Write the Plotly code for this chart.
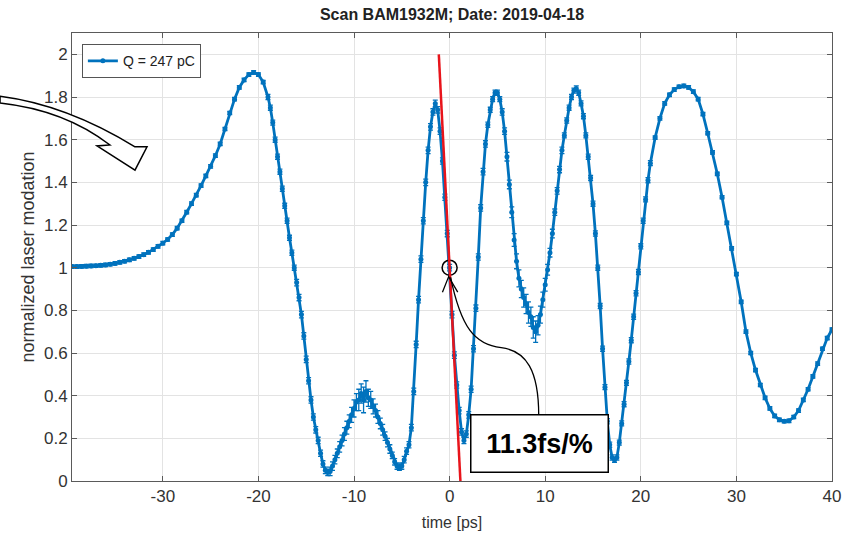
import numpy as np
import plotly.graph_objects as go

# Scan grid (ps): coarse on the flat edges, finer through the oscillations
time_a = np.arange(-39.5, -19.49, 0.5)
time_b = np.arange(-19.0, 21.01, 0.25)
time_c = np.arange(21.5, 40.01, 0.5)

mod_a = [1.005, 1.005, 1.006, 1.007, 1.008, 1.009, 1.011, 1.013, 1.016, 1.020,
         1.025, 1.030, 1.037, 1.044, 1.052, 1.061, 1.072, 1.085, 1.100, 1.115,
         1.132, 1.155, 1.185, 1.220, 1.260, 1.300, 1.340, 1.385, 1.430, 1.475,
         1.525, 1.580, 1.650, 1.725, 1.790, 1.845, 1.880, 1.905, 1.915, 1.905,
         1.870]

mod_b = [1.80, 1.75, 1.68, 1.60, 1.52, 1.45, 1.37, 1.29, 1.22, 1.14, 1.07, 1.00,
         0.93, 0.86, 0.78, 0.68, 0.57, 0.47, 0.38, 0.30, 0.24, 0.19, 0.13, 0.08,
         0.05, 0.04, 0.045, 0.07, 0.10, 0.13, 0.16, 0.19, 0.22, 0.25, 0.28, 0.31,
         0.34, 0.37, 0.38, 0.41, 0.38, 0.42, 0.39, 0.38, 0.35, 0.33, 0.30, 0.27,
         0.24, 0.21, 0.18, 0.15, 0.12, 0.09, 0.07, 0.065, 0.07, 0.10, 0.14, 0.17,
         0.25, 0.42, 0.64, 0.85, 1.04, 1.22, 1.40, 1.55, 1.66, 1.73, 1.77, 1.74,
         1.64, 1.50, 1.33, 1.16, 1.00, 0.78, 0.59, 0.45, 0.33, 0.23, 0.19, 0.22,
         0.31, 0.43, 0.62, 0.81, 1.05, 1.28, 1.45, 1.58, 1.67, 1.74, 1.79, 1.82,
         1.82, 1.79, 1.73, 1.64, 1.52, 1.39, 1.26, 1.13, 1.03, 0.95, 0.90, 0.86,
         0.83, 0.79, 0.77, 0.72, 0.70, 0.73, 0.78, 0.85, 0.92, 0.99, 1.07, 1.16,
         1.26, 1.36, 1.46, 1.55, 1.62, 1.69, 1.75, 1.80, 1.83, 1.84, 1.82, 1.77,
         1.71, 1.62, 1.52, 1.42, 1.30, 1.16, 1.00, 0.82, 0.62, 0.44, 0.28, 0.17,
         0.11, 0.10, 0.11, 0.18, 0.27, 0.36, 0.46, 0.56, 0.66, 0.77, 0.88, 0.98,
         1.10, 1.22, 1.32, 1.41, 1.49]

mod_c = [1.61, 1.70, 1.77, 1.81, 1.835, 1.848, 1.852, 1.845, 1.825, 1.79,
         1.72, 1.63, 1.54, 1.44, 1.33, 1.21, 1.09, 0.97, 0.84, 0.70,
         0.60, 0.52, 0.45, 0.39, 0.34, 0.305, 0.287, 0.28, 0.282, 0.30,
         0.33, 0.38, 0.43, 0.49, 0.55, 0.62, 0.67, 0.71]

err_a = [0.008] * len(mod_a)
err_b = ([0.012] * 12 + [0.015] * 12 +
         [0.015, 0.015, 0.02, 0.02, 0.02, 0.02, 0.025, 0.025, 0.03, 0.03, 0.03, 0.035] +
         [0.04, 0.04, 0.05, 0.045, 0.06, 0.05, 0.04, 0.04, 0.035, 0.03, 0.03, 0.025] +
         [0.025, 0.02, 0.02, 0.02] + [0.015] * 8 +
         [0.015] * 12 + [0.015] * 12 +
         [0.015] * 8 + [0.012] * 4 +
         [0.012, 0.012, 0.015, 0.015, 0.02, 0.02, 0.025, 0.03, 0.035, 0.04, 0.04, 0.045] +
         [0.045, 0.05, 0.045, 0.05, 0.05, 0.045, 0.04, 0.035, 0.03, 0.025, 0.02, 0.02] +
         [0.015] * 4 + [0.012] * 8 +
         [0.012] * 12 + [0.012] * 16 + [0.012])
err_c = [0.008] * len(mod_c)

time = np.concatenate([time_a, time_b, time_c])
modulation = mod_a + mod_b + mod_c
error = err_a + err_b + err_c
assert len(time) == len(modulation) == len(error)

# Linear fit through the zero crossing: 11.3 fs per 1 % of modulation
slope_fs_per_pct = 11.3
ps_per_unit = slope_fs_per_pct * 100 / 1000.0
fit_y = [2.0, -0.04]
fit_x = [-(y - 1.0) * ps_per_unit for y in fit_y]

x_ticks = [-30, -20, -10, 0, 10, 20, 30, 40]
x_tick_text = ["-30", "-20", "-10", "0", "10", "20", "30", "40"]
y_ticks = [0, 0.2, 0.4, 0.6, 0.8, 1, 1.2, 1.4, 1.6, 1.8, 2]
y_tick_text = ["0", "0.2", "0.4", "0.6", "0.8", "1", "1.2", "1.4", "1.6", "1.8", "2"]

BLUE = "#0072BD"
AXIS = "#5a5a5a"
FONT = "Liberation Sans, Arial, sans-serif"

fig = go.Figure()
fig.add_trace(go.Scatter(
    x=time, y=modulation, mode="lines+markers", name="Q = 247 pC",
    line=dict(color=BLUE, width=2.8),
    marker=dict(color=BLUE, size=5),
    error_y=dict(type="data", array=error, visible=True, color=BLUE,
                 thickness=1.3, width=2.5),
))

# Working point marker
fig.add_trace(go.Scatter(
    x=[0], y=[1], mode="markers", showlegend=False, cliponaxis=False,
    marker=dict(symbol="circle-open", size=15, color="black",
                line=dict(width=1.5, color="black")),
))

shapes = [
    # fitted slope
    dict(type="line", xref="x", yref="y", x0=fit_x[0], y0=fit_y[0],
         x1=fit_x[1], y1=fit_y[1], line=dict(color="#e8141b", width=2.5),
         layer="above"),
    # curved pointer from the label to the working point
    dict(type="path", xref="x", yref="y", layer="above",
         path="M 9.32,0.30 C 9.35,0.52 8.0,0.61 5.4,0.625 C 2.6,0.64 1.2,0.72 0.1,0.955",
         line=dict(color="black", width=1.3)),
    dict(type="path", xref="x", yref="y", layer="above",
         path="M -0.75,0.885 L -0.1,0.958 L 0.85,0.885",
         line=dict(color="black", width=1.3)),
    # hollow arrow in the left margin
    dict(type="path", xref="paper", yref="paper", layer="above",
         path=("M -0.0947,0.859 Q -0.0072,0.840 0.0829,0.746 L 0.0987,0.746 "
               "L 0.0829,0.694 L 0.0329,0.748 L 0.050,0.750 "
               "Q -0.0092,0.828 -0.0947,0.844 Z"),
         fillcolor="white", line=dict(color="black", width=1.5)),
]

annotations = [
    dict(x=9.42, y=0.174, xref="x", yref="y", text="<b>11.3fs/%</b>",
         showarrow=False, font=dict(family=FONT, size=27, color="black"),
         bgcolor="white", bordercolor="black", borderwidth=1.5,
         width=134, height=54, align="center", valign="middle"),
]

axis_common = dict(
    showline=True, linecolor=AXIS, linewidth=1, mirror="allticks",
    ticks="inside", ticklen=5, tickcolor=AXIS, tickwidth=1,
    showgrid=True, gridcolor="#e3e3e3", gridwidth=1, zeroline=False,
    tickfont=dict(family=FONT, size=17, color="#333333"),
    automargin=False,
)

fig.update_layout(
    width=848, height=539,
    margin=dict(l=72, r=16, t=33, b=58),
    paper_bgcolor="white", plot_bgcolor="white",
    font=dict(family=FONT, color="#333333"),
    title=dict(text="<b>Scan BAM1932M; Date: 2019-04-18</b>",
               x=0.533, xanchor="center", y=0.974, yanchor="middle",
               font=dict(family=FONT, size=16, color="#222222")),
    xaxis=dict(range=[-39.5, 40], tickvals=x_ticks, ticktext=x_tick_text,
               title=dict(text="time [ps]", standoff=11,
                          font=dict(family=FONT, size=16, color="#333333")),
               **axis_common),
    yaxis=dict(range=[0, 2.1], tickvals=y_ticks, ticktext=y_tick_text,
               title=dict(text="normalized laser modation", standoff=4,
                          font=dict(family=FONT, size=18, color="#333333")),
               **axis_common),
    legend=dict(x=0.013, y=0.975, xanchor="left", yanchor="top",
                bgcolor="white", bordercolor="#555555", borderwidth=1,
                font=dict(family=FONT, size=14, color="#222222"),
                itemwidth=30, tracegroupgap=0),
    showlegend=True,
    shapes=shapes,
    annotations=annotations,
)

fig.write_html("out.html")
